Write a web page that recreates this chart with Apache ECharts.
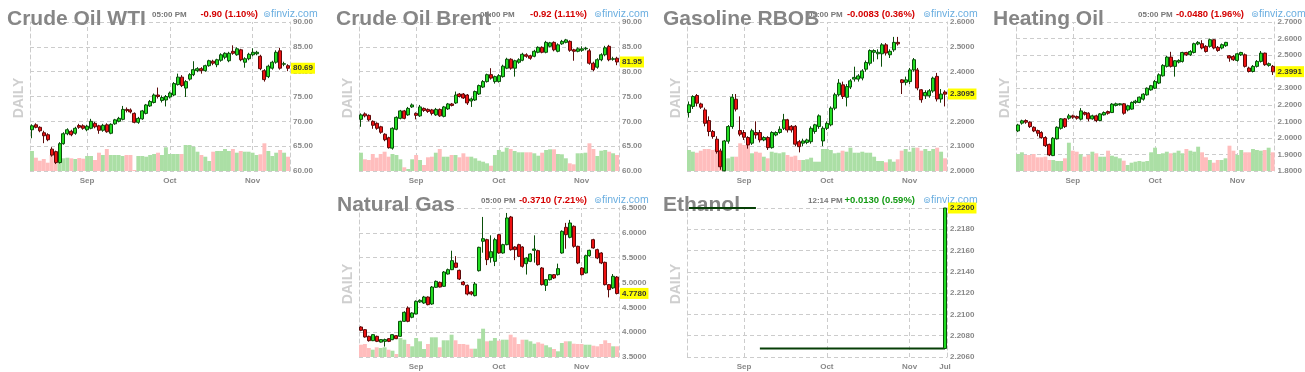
<!DOCTYPE html>
<html><head><meta charset="utf-8">
<script src="https://cdn.jsdelivr.net/npm/echarts@6/dist/echarts.min.js"></script>
<style>html,body{margin:0;padding:0;background:#fff}#c{width:1305px;height:372px}</style>
</head><body><div id="c"></div>
<script>
// ---------- categories ----------
const dates = ['Aug 12','Aug 13','Aug 16','Aug 17','Aug 18','Aug 19','Aug 20','Aug 23','Aug 24','Aug 25','Aug 26','Aug 27','Aug 30','Aug 31',
'Sep 1','Sep 2','Sep 3','Sep 7','Sep 8','Sep 9','Sep 10','Sep 13','Sep 14','Sep 15','Sep 16','Sep 17','Sep 20','Sep 21','Sep 22','Sep 23','Sep 24','Sep 27','Sep 28','Sep 29','Sep 30',
'Oct 1','Oct 4','Oct 5','Oct 6','Oct 7','Oct 8','Oct 11','Oct 12','Oct 13','Oct 14','Oct 15','Oct 18','Oct 19','Oct 20','Oct 21','Oct 22','Oct 25','Oct 26','Oct 27','Oct 28','Oct 29',
'Nov 1','Nov 2','Nov 3','Nov 4','Nov 5','Nov 8','Nov 9','Nov 10','Nov 11','Nov 12'];
const monthTicks = ['Sep 1','Oct 1','Nov 1'];
const ethanolDates = dates.slice(0, 65).concat(['Jul 30']);
const ethanolTicks = ['Sep 1','Oct 1','Nov 1','Jul 30'];

// ---------- candles: [open, close, low, high] ----------
const wtiCandles = [
[68.3,69.1,66.6,69.4],[69.3,68.8,68.6,69.6],[68.8,68.1,67.8,69.0],[67.7,67.1,65.6,68.1],[67.3,66.3,66.0,67.6],
[64.4,63.2,62.9,64.8],[63.9,61.7,61.4,64.1],[61.7,65.5,61.5,65.8],[65.5,67.5,65.3,67.8],[67.5,68.3,67.2,68.6],
[68.0,67.3,67.0,68.3],[67.6,68.6,67.3,68.9],[69.15,68.8,68.5,69.5],[69.1,68.6,68.3,69.4],[68.3,69.0,68.0,69.3],
[68.6,70.0,68.4,70.5],[69.6,68.9,68.6,69.9],[69.1,68.2,67.5,69.3],[68.2,69.2,67.9,69.5],[69.3,67.9,67.7,69.6],
[67.6,69.4,67.4,69.6],[69.5,70.3,69.3,70.5],[70.0,70.6,69.8,70.9],[70.4,72.4,70.2,73.1],[72.4,72.2,71.8,72.8],
[72.3,71.9,71.6,72.6],[71.6,69.8,69.6,71.8],[69.8,70.6,69.5,70.9],[70.5,72.1,70.3,72.3],[71.6,73.3,71.4,73.5],
[73.1,74.0,72.9,74.3],[73.8,75.3,73.6,75.6],[75.3,75.0,74.6,76.8],[74.2,74.8,73.8,75.2],[74.3,75.0,73.0,75.3],
[74.9,75.7,74.6,76.0],[75.3,77.6,75.1,77.9],[77.4,78.9,77.2,79.6],[78.9,77.2,76.9,79.3],[76.7,78.0,74.9,78.3],
[78.5,79.4,78.2,79.7],[79.4,80.4,79.1,82.1],[80.2,80.6,79.9,80.9],[80.6,80.2,79.6,80.9],[80.2,81.2,80.0,81.4],
[81.2,82.2,81.0,82.4],[82.1,81.7,81.3,82.4],[81.4,82.4,80.9,82.6],[82.3,83.4,82.0,83.7],[82.9,83.7,82.5,83.9],
[82.2,83.7,81.9,84.0],[84.1,83.7,83.4,85.3],[83.4,84.6,83.2,84.9],[84.4,82.4,82.1,84.6],[81.9,82.6,80.8,82.9],
[82.6,83.5,82.3,83.8],[83.4,83.9,83.1,84.7],[83.6,83.9,83.3,84.2],[83.1,80.6,80.3,83.4],[80.2,78.4,78.0,80.5],
[79.0,81.1,78.7,81.4],[80.7,81.9,80.4,82.2],[81.9,83.9,81.6,84.3],[84.2,80.7,80.4,84.8],[81.5,81.6,81.1,82.0],
[81.2,80.69,80.1,81.5]];
const brentCandles = [
[70.4,71.3,68.9,71.6],[71.5,71.1,70.8,71.8],[71.2,70.3,70.0,71.4],[70.0,69.2,68.5,70.2],[69.6,68.6,68.3,69.8],
[68.9,67.8,67.5,69.1],[67.4,66.3,66.0,67.6],[66.7,64.7,64.5,66.9],[64.6,68.6,64.3,68.8],[68.4,70.8,68.2,71.0],
[70.6,72.1,70.4,72.3],[72.1,70.6,70.4,72.3],[71.3,72.6,71.1,72.9],[72.9,73.3,72.7,73.6],[71.6,71.2,70.4,71.8],
[71.1,72.9,70.9,73.3],[72.6,72.2,71.9,72.8],[72.4,72.0,71.7,72.6],[72.3,71.6,71.2,72.5],[71.3,72.4,71.1,72.7],
[72.4,71.1,70.9,72.6],[71.0,72.9,70.8,73.1],[72.5,73.5,72.3,73.7],[73.5,73.2,73.0,73.7],[73.7,75.3,73.5,76.0],
[75.5,75.0,74.8,75.7],[75.5,74.7,74.5,75.7],[75.3,73.7,73.3,75.5],[74.1,74.5,72.9,74.8],[74.3,76.0,74.1,76.2],
[75.5,77.2,75.3,77.4],[76.9,78.0,76.7,78.3],[78.0,79.4,77.8,79.6],[79.4,78.7,78.4,80.7],[78.0,79.0,77.6,79.2],
[78.0,79.2,77.8,79.5],[79.0,81.1,78.8,81.4],[80.7,82.5,80.5,82.8],[82.5,80.7,80.4,82.7],[80.7,82.2,79.0,82.4],
[81.9,82.4,81.6,82.7],[82.3,83.5,82.1,83.8],[83.4,83.1,82.8,83.7],[83.2,82.7,82.4,83.4],[83.1,84.1,82.9,84.4],
[83.9,84.9,83.7,85.1],[84.9,83.9,83.7,85.1],[83.9,85.9,83.7,86.2],[85.1,85.8,84.9,86.0],[85.9,84.4,84.1,86.1],
[84.1,85.4,83.9,85.7],[85.6,86.1,85.4,86.4],[85.9,86.4,85.7,86.6],[86.1,84.3,84.0,86.3],[84.4,84.1,82.2,84.6],
[84.1,84.6,83.9,84.9],[84.3,84.6,84.0,85.1],[84.6,84.7,84.3,85.0],[84.2,81.7,81.4,84.6],[81.7,80.4,80.1,82.0],
[80.9,82.4,80.6,82.7],[82.4,83.4,82.1,83.7],[83.4,84.8,83.1,85.2],[85.1,82.4,82.1,85.4],[82.5,82.6,82.2,83.0],
[82.7,81.95,81.3,83.0]];
const gasolineCandles = [
[2.2355,2.2666,2.215,2.28],[2.26,2.30,2.25,2.305],[2.304,2.273,2.26,2.31],[2.27,2.257,2.25,2.275],[2.246,2.192,2.18,2.255],
[2.203,2.159,2.14,2.22],[2.159,2.139,2.13,2.165],[2.128,2.078,2.07,2.14],[2.081,2.017,2.005,2.09],[2.001,2.121,1.999,2.125],
[2.12,2.179,2.11,2.185],[2.179,2.297,2.17,2.31],[2.289,2.249,2.24,2.31],[2.163,2.148,2.14,2.22],[2.155,2.136,2.125,2.165],
[2.135,2.105,2.09,2.14],[2.112,2.162,2.105,2.17],[2.155,2.145,2.13,2.2],[2.155,2.125,2.115,2.165],[2.125,2.135,2.12,2.14],
[2.135,2.094,2.085,2.14],[2.094,2.155,2.09,2.16],[2.145,2.155,2.14,2.16],[2.155,2.168,2.15,2.18],[2.172,2.206,2.165,2.23],
[2.206,2.165,2.155,2.21],[2.18,2.165,2.155,2.185],[2.18,2.108,2.1,2.185],[2.118,2.098,2.075,2.125],[2.112,2.121,2.1,2.13],
[2.115,2.125,2.108,2.13],[2.118,2.172,2.11,2.18],[2.159,2.186,2.15,2.19],[2.179,2.222,2.17,2.228],[2.121,2.172,2.10,2.18],
[2.172,2.192,2.165,2.20],[2.186,2.253,2.18,2.26],[2.253,2.307,2.245,2.315],[2.307,2.354,2.30,2.37],[2.347,2.30,2.29,2.36],
[2.297,2.34,2.26,2.35],[2.338,2.363,2.33,2.37],[2.37,2.377,2.36,2.42],[2.37,2.383,2.36,2.39],[2.374,2.403,2.365,2.41],
[2.41,2.437,2.40,2.445],[2.434,2.485,2.425,2.49],[2.478,2.485,2.44,2.49],[2.472,2.478,2.45,2.49],[2.472,2.508,2.42,2.515],
[2.508,2.475,2.465,2.515],[2.468,2.482,2.455,2.49],[2.488,2.518,2.48,2.54],[2.518,2.512,2.505,2.54],[2.367,2.356,2.31,2.37],
[2.357,2.367,2.345,2.38],[2.36,2.407,2.35,2.415],[2.407,2.448,2.40,2.455],[2.407,2.334,2.325,2.415],[2.327,2.287,2.275,2.33],
[2.303,2.316,2.29,2.325],[2.303,2.323,2.295,2.33],[2.322,2.374,2.315,2.38],[2.381,2.29,2.28,2.395],[2.29,2.31,2.275,2.33],
[2.318,2.3095,2.26,2.325]];
const heatingCandles = [
[2.042,2.078,2.035,2.085],[2.089,2.103,2.08,2.11],[2.105,2.095,2.085,2.112],[2.095,2.068,2.06,2.10],[2.064,2.042,2.035,2.07],
[2.044,2.028,2.01,2.05],[2.032,2.002,1.995,2.04],[2.002,1.953,1.945,2.01],[1.961,1.897,1.89,1.965],[1.893,1.998,1.89,2.005],
[1.994,2.064,1.99,2.07],[2.058,2.115,2.05,2.12],[2.115,2.068,2.06,2.12],[2.119,2.133,2.11,2.145],[2.133,2.125,2.115,2.14],
[2.129,2.119,2.11,2.135],[2.113,2.163,2.105,2.18],[2.153,2.143,2.135,2.16],[2.149,2.115,2.10,2.155],[2.115,2.133,2.11,2.14],
[2.133,2.105,2.095,2.14],[2.105,2.145,2.10,2.15],[2.139,2.153,2.135,2.16],[2.159,2.149,2.14,2.165],[2.153,2.204,2.15,2.21],
[2.196,2.206,2.19,2.213],[2.20,2.206,2.195,2.21],[2.206,2.149,2.14,2.21],[2.169,2.194,2.16,2.20],[2.174,2.214,2.17,2.22],
[2.214,2.222,2.205,2.23],[2.214,2.246,2.21,2.25],[2.234,2.264,2.225,2.27],[2.26,2.30,2.255,2.305],[2.29,2.315,2.285,2.32],
[2.30,2.341,2.295,2.35],[2.331,2.381,2.325,2.39],[2.375,2.438,2.37,2.445],[2.432,2.488,2.425,2.495],[2.488,2.432,2.425,2.52],
[2.432,2.466,2.37,2.47],[2.458,2.468,2.45,2.475],[2.462,2.516,2.455,2.52],[2.516,2.502,2.495,2.52],[2.502,2.522,2.495,2.53],
[2.516,2.569,2.51,2.575],[2.567,2.577,2.56,2.585],[2.569,2.543,2.535,2.59],[2.553,2.522,2.515,2.56],[2.553,2.593,2.545,2.60],
[2.593,2.543,2.535,2.595],[2.547,2.528,2.52,2.555],[2.543,2.563,2.535,2.57],[2.557,2.577,2.55,2.58],[2.496,2.482,2.46,2.50],
[2.492,2.472,2.465,2.50],[2.468,2.508,2.46,2.515],[2.502,2.516,2.495,2.52],[2.502,2.432,2.425,2.51],[2.422,2.401,2.395,2.43],
[2.401,2.432,2.395,2.44],[2.432,2.462,2.425,2.47],[2.462,2.512,2.455,2.525],[2.512,2.442,2.435,2.515],[2.438,2.448,2.43,2.455],
[2.432,2.3991,2.38,2.44]];
const natgasCandles = [
[4.104,4.037,4.02,4.12],[4.05,3.903,3.89,4.06],[3.916,3.829,3.81,3.93],[3.829,3.95,3.82,3.96],[3.916,3.815,3.80,3.93],
[3.80,3.85,3.79,3.86],[3.815,3.85,3.71,3.87],[3.869,3.815,3.80,3.88],[3.849,3.95,3.84,3.96],[3.93,3.869,3.86,3.94],
[3.916,4.218,3.91,4.23],[4.218,4.40,4.21,4.42],[4.487,4.218,4.20,4.52],[4.30,4.386,4.28,4.40],[4.366,4.621,4.36,4.64],
[4.608,4.641,4.59,4.66],[4.587,4.708,4.57,4.73],[4.708,4.554,4.54,4.72],[4.567,4.909,4.55,4.93],[4.903,5.023,4.89,5.04],
[5.003,4.909,4.90,5.02],[4.923,5.211,4.91,5.23],[5.171,5.258,5.16,5.28],[5.258,5.44,5.25,5.64],[5.393,5.305,5.29,5.53],
[5.245,5.07,5.05,5.26],[5.01,4.957,4.94,5.03],[4.943,4.768,4.74,4.96],[4.81,4.768,4.74,4.83],[4.735,4.97,4.72,5.01],
[5.238,5.708,5.22,5.72],[5.83,5.883,5.60,6.32],[5.862,5.46,5.35,5.88],[5.50,5.62,5.40,5.95],[5.426,5.862,5.33,5.90],
[5.963,5.594,5.58,5.98],[5.594,5.762,5.58,5.78],[5.762,6.299,5.75,6.40],[6.319,5.661,5.64,6.34],[5.715,5.661,5.45,5.73],
[5.762,5.527,5.51,5.78],[5.715,5.326,5.30,5.73],[5.379,5.493,5.16,5.51],[5.426,5.574,5.41,5.59],[5.648,5.674,5.40,5.95],
[5.641,5.359,5.34,5.66],[5.292,4.957,4.94,5.31],[4.943,5.057,4.83,5.07],[5.057,5.158,5.04,5.17],[5.158,5.09,5.07,5.17],
[5.158,5.279,5.14,5.38],[5.594,6.03,5.58,6.05],[6.111,5.963,5.68,6.20],[5.909,6.198,5.89,6.26],[6.131,5.728,5.70,6.15],
[5.728,5.393,5.37,5.74],[5.292,5.158,5.14,5.31],[5.191,5.54,5.18,5.56],[5.54,5.648,5.52,5.66],[5.862,5.695,5.68,5.88],
[5.661,5.493,5.47,5.68],[5.594,5.393,5.37,5.61],[5.406,4.957,4.94,5.42],[4.957,4.856,4.70,4.97],[4.89,5.124,4.87,5.17],
[5.11,4.778,4.76,5.13]];

// Ethanol: flat prints before / after, plus the last session candle
const ethanolPrior = [2.22,2.22,2.22,2.22,2.22,2.22,2.22,2.22,2.22,2.22,2.22,2.22,2.22,2.22,2.22,2.22,2.22,2.22];
const ethanolRecent = [2.2068,2.2068,2.2068,2.2068,2.2068,2.2068,2.2068,2.2068,2.2068,2.2068,2.2068,2.2068,
2.2068,2.2068,2.2068,2.2068,2.2068,2.2068,2.2068,2.2068,2.2068,2.2068,2.2068,2.2068,2.2068,2.2068,2.2068,2.2068,
2.2068,2.2068,2.2068,2.2068,2.2068,2.2068,2.2068,2.2068,2.2068,2.2068,2.2068,2.2068,2.2068,2.2068,2.2068,2.2068,
2.2068,2.2068,2.2068,2.2068];
const ethanolLastCandle = [2.2068, 2.22, 2.2068, 2.22];

// ---------- volumes (relative units) ----------
const wtiVolume = [200,133,103,120,83,160,83,193,127,133,127,120,130,123,150,150,110,183,160,220,160,160,160,150,160,160,10,150,150,143,160,170,183,160,237,170,170,170,170,260,260,243,193,160,143,100,193,200,200,220,200,220,183,200,193,193,183,160,167,277,200,150,183,210,183,143];
const brentVolume = [183,117,110,170,133,170,193,143,170,160,117,37,20,117,160,110,60,137,143,183,220,143,143,160,160,137,177,143,143,127,103,93,77,53,160,210,193,233,220,200,187,187,187,187,177,153,183,210,217,217,170,167,127,77,67,177,177,183,277,220,150,203,210,193,177,160];
const gasolineVolume = [210,193,183,203,220,220,210,220,110,117,127,143,143,277,260,260,177,193,183,143,127,193,183,177,187,160,143,153,110,110,117,133,93,93,220,220,210,177,183,203,193,233,183,183,193,183,183,143,100,100,87,117,93,117,203,220,193,233,233,203,220,200,220,233,193,127];
const heatingVolume = [170,187,160,160,170,137,137,143,110,110,100,100,127,283,203,193,167,143,160,193,177,143,143,203,153,143,127,103,60,83,93,100,93,100,187,233,170,177,193,177,183,203,177,220,203,193,243,187,137,110,83,110,110,127,253,203,160,210,187,187,220,210,203,210,233,187];
const natgasVolume = [123,130,90,73,97,90,97,73,63,30,190,173,130,107,190,157,80,130,197,197,97,167,167,223,167,130,130,123,83,83,183,283,157,163,190,163,173,173,223,197,130,173,173,157,133,147,133,117,97,80,57,140,157,157,133,130,130,123,123,113,107,130,167,140,107,107];

// ---------- header texts ----------
const titles = ['Crude Oil WTI','Crude Oil Brent','Gasoline RBOB','Heating Oil','Natural Gas','Ethanol'];
const times = ['05:00 PM','05:00 PM','05:00 PM','05:00 PM','05:00 PM','12:14 PM'];
const changes = ['-0.90 (1.10%)','-0.92 (1.11%)','-0.0083 (0.36%)','-0.0480 (1.96%)','-0.3710 (7.21%)','+0.0130 (0.59%)'];

// ---------- styles / layout ----------
const FONT = '"Liberation Sans", Arial, Helvetica, sans-serif';
const UP = '#22dd22', DOWN = '#ee1111', UP_B = '#0a4f0a', DOWN_B = '#5e0a0a';
const VOL_UP = '#abdfa5', VOL_DOWN = '#ffbdbd';
const DASH = {color:'#cccccc', width:1, type:[4,3]};
const VOL_MAX = 1490;
const GW = 260, GH = 149;

const panels = [
 {candles:wtiCandles, volume:wtiVolume, cats:dates, ticks:monthTicks, yMin:60, yMax:90, step:5, dec:2, L:{left:30, top:22, titleX:7, timeX:152, chgR:258, siteX:271}},
 {candles:brentCandles, volume:brentVolume, cats:dates, ticks:monthTicks, yMin:60, yMax:90, step:5, dec:2, L:{left:359, top:22, titleX:336, timeX:480, chgR:587, siteX:602}},
 {candles:gasolineCandles, volume:gasolineVolume, cats:dates, ticks:monthTicks, yMin:2.0, yMax:2.6, step:0.1, dec:4, L:{left:687, top:22, titleX:663, timeX:808, chgR:915, siteX:931}},
 {candles:heatingCandles, volume:heatingVolume, cats:dates, ticks:monthTicks, yMin:1.8, yMax:2.7, step:0.1, dec:4, L:{left:1016, top:22, titleX:993, timeX:1138, chgR:1244, siteX:1259}},
 {candles:natgasCandles, volume:natgasVolume, cats:dates, ticks:monthTicks, yMin:3.5, yMax:6.5, step:0.5, dec:4, L:{left:359, top:208, titleX:337, timeX:481, chgR:587, siteX:602}},
 {ethanol:true, cats:ethanolDates, ticks:ethanolTicks, yMin:2.206, yMax:2.22, step:0.002, dec:4, L:{left:687, top:208, titleX:663, timeX:808, chgR:915, siteX:931}}
];

const grid=[], xAxis=[], yAxis=[], series=[], graphic=[];
const axisLabelStyle = {fontSize:8, fontWeight:'bold', color:'#888', fontFamily:FONT};

function tagMarkLine(value, dec){
  return {symbol:'none', silent:true, animation:false, z:6,
    lineStyle:{color:'rgba(0,0,0,0)', width:0},
    label:{show:true, position:'end', distance:1, formatter:()=>value.toFixed(dec),
      backgroundColor:'#ffff00', color:'#333', fontSize:8, fontWeight:'bold', fontFamily:FONT, padding:[2,2,1,2], opacity:1},
    data:[{yAxis:value}]};
}
function monthMarkLine(p){
  return {symbol:'none', silent:true, animation:false, z:1,
    lineStyle:DASH, label:{show:false}, emphasis:{disabled:true},
    data:p.ticks.filter(t=>t!=='Jul 30').map(t=>({xAxis:t}))};
}

panels.forEach((p,i)=>{
  const L = p.L;
  grid.push({left:L.left, top:L.top, width:GW, height:GH});
  xAxis.push({type:'category', gridIndex:i, data:p.cats, boundaryGap:true,
    axisLine:{show:false}, axisTick:{show:false}, splitLine:{show:false},
    axisLabel:Object.assign({interval:(idx,val)=>p.ticks.includes(val), formatter:v=>v.slice(0,3), margin:6}, axisLabelStyle)});
  yAxis.push({type:'value', gridIndex:i, position:'right', min:p.yMin, max:p.yMax, interval:p.step,
    axisLine:{show:true, lineStyle:DASH}, axisTick:{show:false},
    splitLine:{show:true, lineStyle:DASH},
    axisLabel:Object.assign({margin:3, formatter:v=>v.toFixed(p.dec)}, axisLabelStyle)});
  yAxis.push({type:'value', gridIndex:i, position:'left', min:0, max:VOL_MAX,
    axisLine:{show:true, lineStyle:DASH}, axisTick:{show:false}, axisLabel:{show:false}, splitLine:{show:false}});

  if (!p.ethanol) {
    series.push({type:'bar', xAxisIndex:i, yAxisIndex:2*i+1, barCategoryGap:'0%', silent:true,
      data:p.volume.map((v,k)=>({value:v, itemStyle:{color: p.candles[k][1] >= p.candles[k][0] ? VOL_UP : VOL_DOWN}})),
      markLine:monthMarkLine(p)});
    series.push({type:'candlestick', xAxisIndex:i, yAxisIndex:2*i, barWidth:3.5, data:p.candles, clip:false,
      itemStyle:{color:UP, color0:DOWN, borderColor:UP_B, borderColor0:DOWN_B, borderWidth:1},
      markLine:tagMarkLine(p.candles[p.candles.length-1][1], p.dec)});
  } else {
    const n = p.cats.length;
    const top = p.cats.map((c,k)=> k < ethanolPrior.length ? ethanolPrior[k] : '-');
    const bottom = p.cats.map((c,k)=> k >= ethanolPrior.length ? ethanolRecent[k-ethanolPrior.length] : '-');
    const cndl = p.cats.map((c,k)=> k === n-1 ? ethanolLastCandle : ['-','-','-','-']);
    series.push({type:'line', xAxisIndex:i, yAxisIndex:2*i, data:top, symbol:'none', silent:true,
      lineStyle:{color:'#063f06', width:2}, z:3});
    series.push({type:'line', xAxisIndex:i, yAxisIndex:2*i, data:bottom, symbol:'none', silent:true,
      lineStyle:{color:'#063f06', width:2}, z:3, markLine:monthMarkLine(p)});
    series.push({type:'candlestick', xAxisIndex:i, yAxisIndex:2*i, barWidth:3.5, data:cndl, clip:false,
      itemStyle:{color:UP, color0:DOWN, borderColor:UP_B, borderColor0:DOWN_B, borderWidth:1}, z:4,
      markLine:tagMarkLine(ethanolLastCandle[1], p.dec)});
  }

  const hy = L.top - 7.5;
  graphic.push({type:'text', x:L.timeX, y:hy, z:1, style:{text:times[i], fill:'#777', font:'bold 8px '+FONT, textVerticalAlign:'middle', verticalAlign:'middle'}});
  const chgColor = changes[i][0] === '+' ? '#129a12' : '#d40000';
  graphic.push({type:'text', x:L.chgR, y:hy, z:1, style:{text:changes[i], fill:chgColor, font:'bold 9.5px '+FONT, textAlign:'right', align:'right', textVerticalAlign:'middle', verticalAlign:'middle'}});
  graphic.push({type:'text', x:L.siteX-8, y:hy, z:1, style:{text:'\u229A', fill:'#6aaee0', font:'9px "DejaVu Sans", sans-serif', textVerticalAlign:'middle', verticalAlign:'middle'}});
  graphic.push({type:'text', x:L.siteX, y:hy, z:1, style:{text:'finviz.com', fill:'#6aaee0', font:'10.5px '+FONT, textVerticalAlign:'middle', verticalAlign:'middle'}});
  graphic.push({type:'text', x:L.left-11, y:L.top+76, rotation:Math.PI/2, z:1, style:{text:'DAILY', fill:'#cfcfcf', font:'bold 14px '+FONT, textAlign:'center', align:'center', textVerticalAlign:'middle', verticalAlign:'middle'}});
  graphic.push({type:'text', x:L.titleX, y:L.top-3, z:1, style:{text:titles[i], fill:'#868686', font:'bold 21px '+FONT, textVerticalAlign:'middle', verticalAlign:'middle'}});
});

const chart = echarts.init(document.getElementById('c'), null, {renderer:'canvas'});
chart.setOption({animation:false, backgroundColor:'#ffffff', textStyle:{fontFamily:FONT},
  grid, xAxis, yAxis, series, graphic});
</script>
</body></html>
